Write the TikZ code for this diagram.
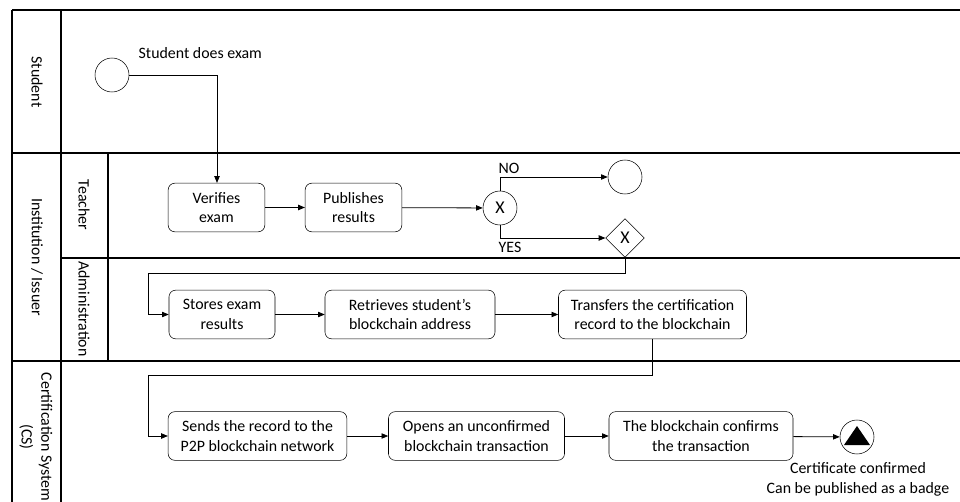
\documentclass[tikz,border=0pt]{standalone}
\usepackage{fontspec}
\setmainfont{Carlito}
\usetikzlibrary{arrows.meta,shapes.geometric}
\begin{document}
\begin{tikzpicture}[x=0.75pt,y=-0.75pt,
  lane/.style={line width=1.4pt},
  task/.style={draw,rounded corners=5pt,align=center,inner sep=1pt,minimum height=36.5pt,font=\fontsize{11.9}{14.8}\selectfont},
  evt/.style={draw,circle,minimum size=25.5pt,inner sep=0pt},
  gw/.style={draw,circle,minimum size=25.5pt,inner sep=0pt,font=\fontsize{13.5}{15}\selectfont},
  gwd/.style={draw,diamond,minimum size=29pt,inner sep=0pt,font=\fontsize{13.5}{15}\selectfont},
  flow/.style={line width=0.6pt,-{Triangle[length=5pt,width=4pt]}},
  lbl/.style={font=\fontsize{11.9}{14.8}\selectfont,align=center},
  lanelbl/.style={font=\fontsize{11.9}{14.8}\selectfont,align=center,rotate=-90}]
\useasboundingbox (0,0) rectangle (960,502);
% lanes
\draw[lane] (12,10) -- (962,10);
\draw[lane] (12,10) -- (12,504);
\draw[lane] (61,10) -- (61,504);
\draw[lane] (12,153) -- (962,153);
\draw[lane] (61,258) -- (962,258);
\draw[lane] (108,153) -- (108,360);
\draw[lane] (12,361) -- (962,361);
\node[lanelbl] (lstu) at (37,82) {Student};
\node[lanelbl] (linst) at (37,257) {Institution / Issuer};
\node[lanelbl] (lteach) at (84,205) {Teacher};
\node[lanelbl] (ladm) at (84,309) {Administration};
\node[lanelbl] (lcs) at (36,437) {Certification System\\(CS)};
% student
\node[evt] (start) at (112,75) {};
\node[lbl,anchor=west] (tstart) at (134,53) {Student does exam};
% teacher
\node[task,minimum width=72.5pt] (ver) at (216.5,207.5) {Verifies\\exam};
\node[task,minimum width=72.5pt] (pub) at (353.5,207.5) {Publishes\\results};
\node[gw] (g1) at (500,208) {X};
\node[evt] (endno) at (625,177) {};
\node[gwd] (g2) at (625,238) {X};
\node[lbl,anchor=south west] (tno) at (494,178) {NO};
\node[lbl,anchor=north west] (tyes) at (494,237) {YES};
% admin
\node[task,minimum width=79.5pt] (sto) at (222,314.5) {Stores exam\\results};
\node[task,minimum width=127.5pt] (ret) at (410,314.5) {Retrieves student’s\\blockchain address};
\node[task,minimum width=141pt] (tra) at (652.5,314.5) {Transfers the certification\\record to the blockchain};
% cs
\node[task,minimum width=134pt] (snd) at (257.5,436) {Sends the record to the\\P2P blockchain network};
\node[task,minimum width=132pt] (opn) at (476.5,436) {Opens an unconfirmed\\blockchain transaction};
\node[task,minimum width=138pt] (cnf) at (701,436) {The blockchain confirms\\the transaction};
\node[evt] (endok) at (857,437) {};
\fill (endok.center) ++(0,-11) -- ++(13,19) -- ++(-26,0) -- cycle;
\node[lbl,anchor=north] (tend) at (858,458) {Certificate confirmed\\Can be published as a badge};
% connectors
\coordinate (c1) at (217,75);
\draw[flow] (start.east) -- (c1) -- (c1 |- ver.north);
\draw[flow] (ver) -- (pub);
\draw[flow] (pub) -- (g1);
\draw[flow] (g1.north) |- (endno.west);
\draw[flow] (g1.south) |- (g2.west);
\coordinate (c2) at (148,273);
\draw[flow] (g2.south) |- (c2) |- (sto.west);
\draw[flow] (sto) -- (ret);
\draw[flow] (ret) -- (tra);
\coordinate (c3) at (148,375);
\draw[flow] (tra.south) |- (c3) |- (snd.west);
\draw[flow] (snd) -- (opn);
\draw[flow] (opn) -- (cnf);
\draw[flow] (cnf) -- (endok);
\end{tikzpicture}
\end{document}
